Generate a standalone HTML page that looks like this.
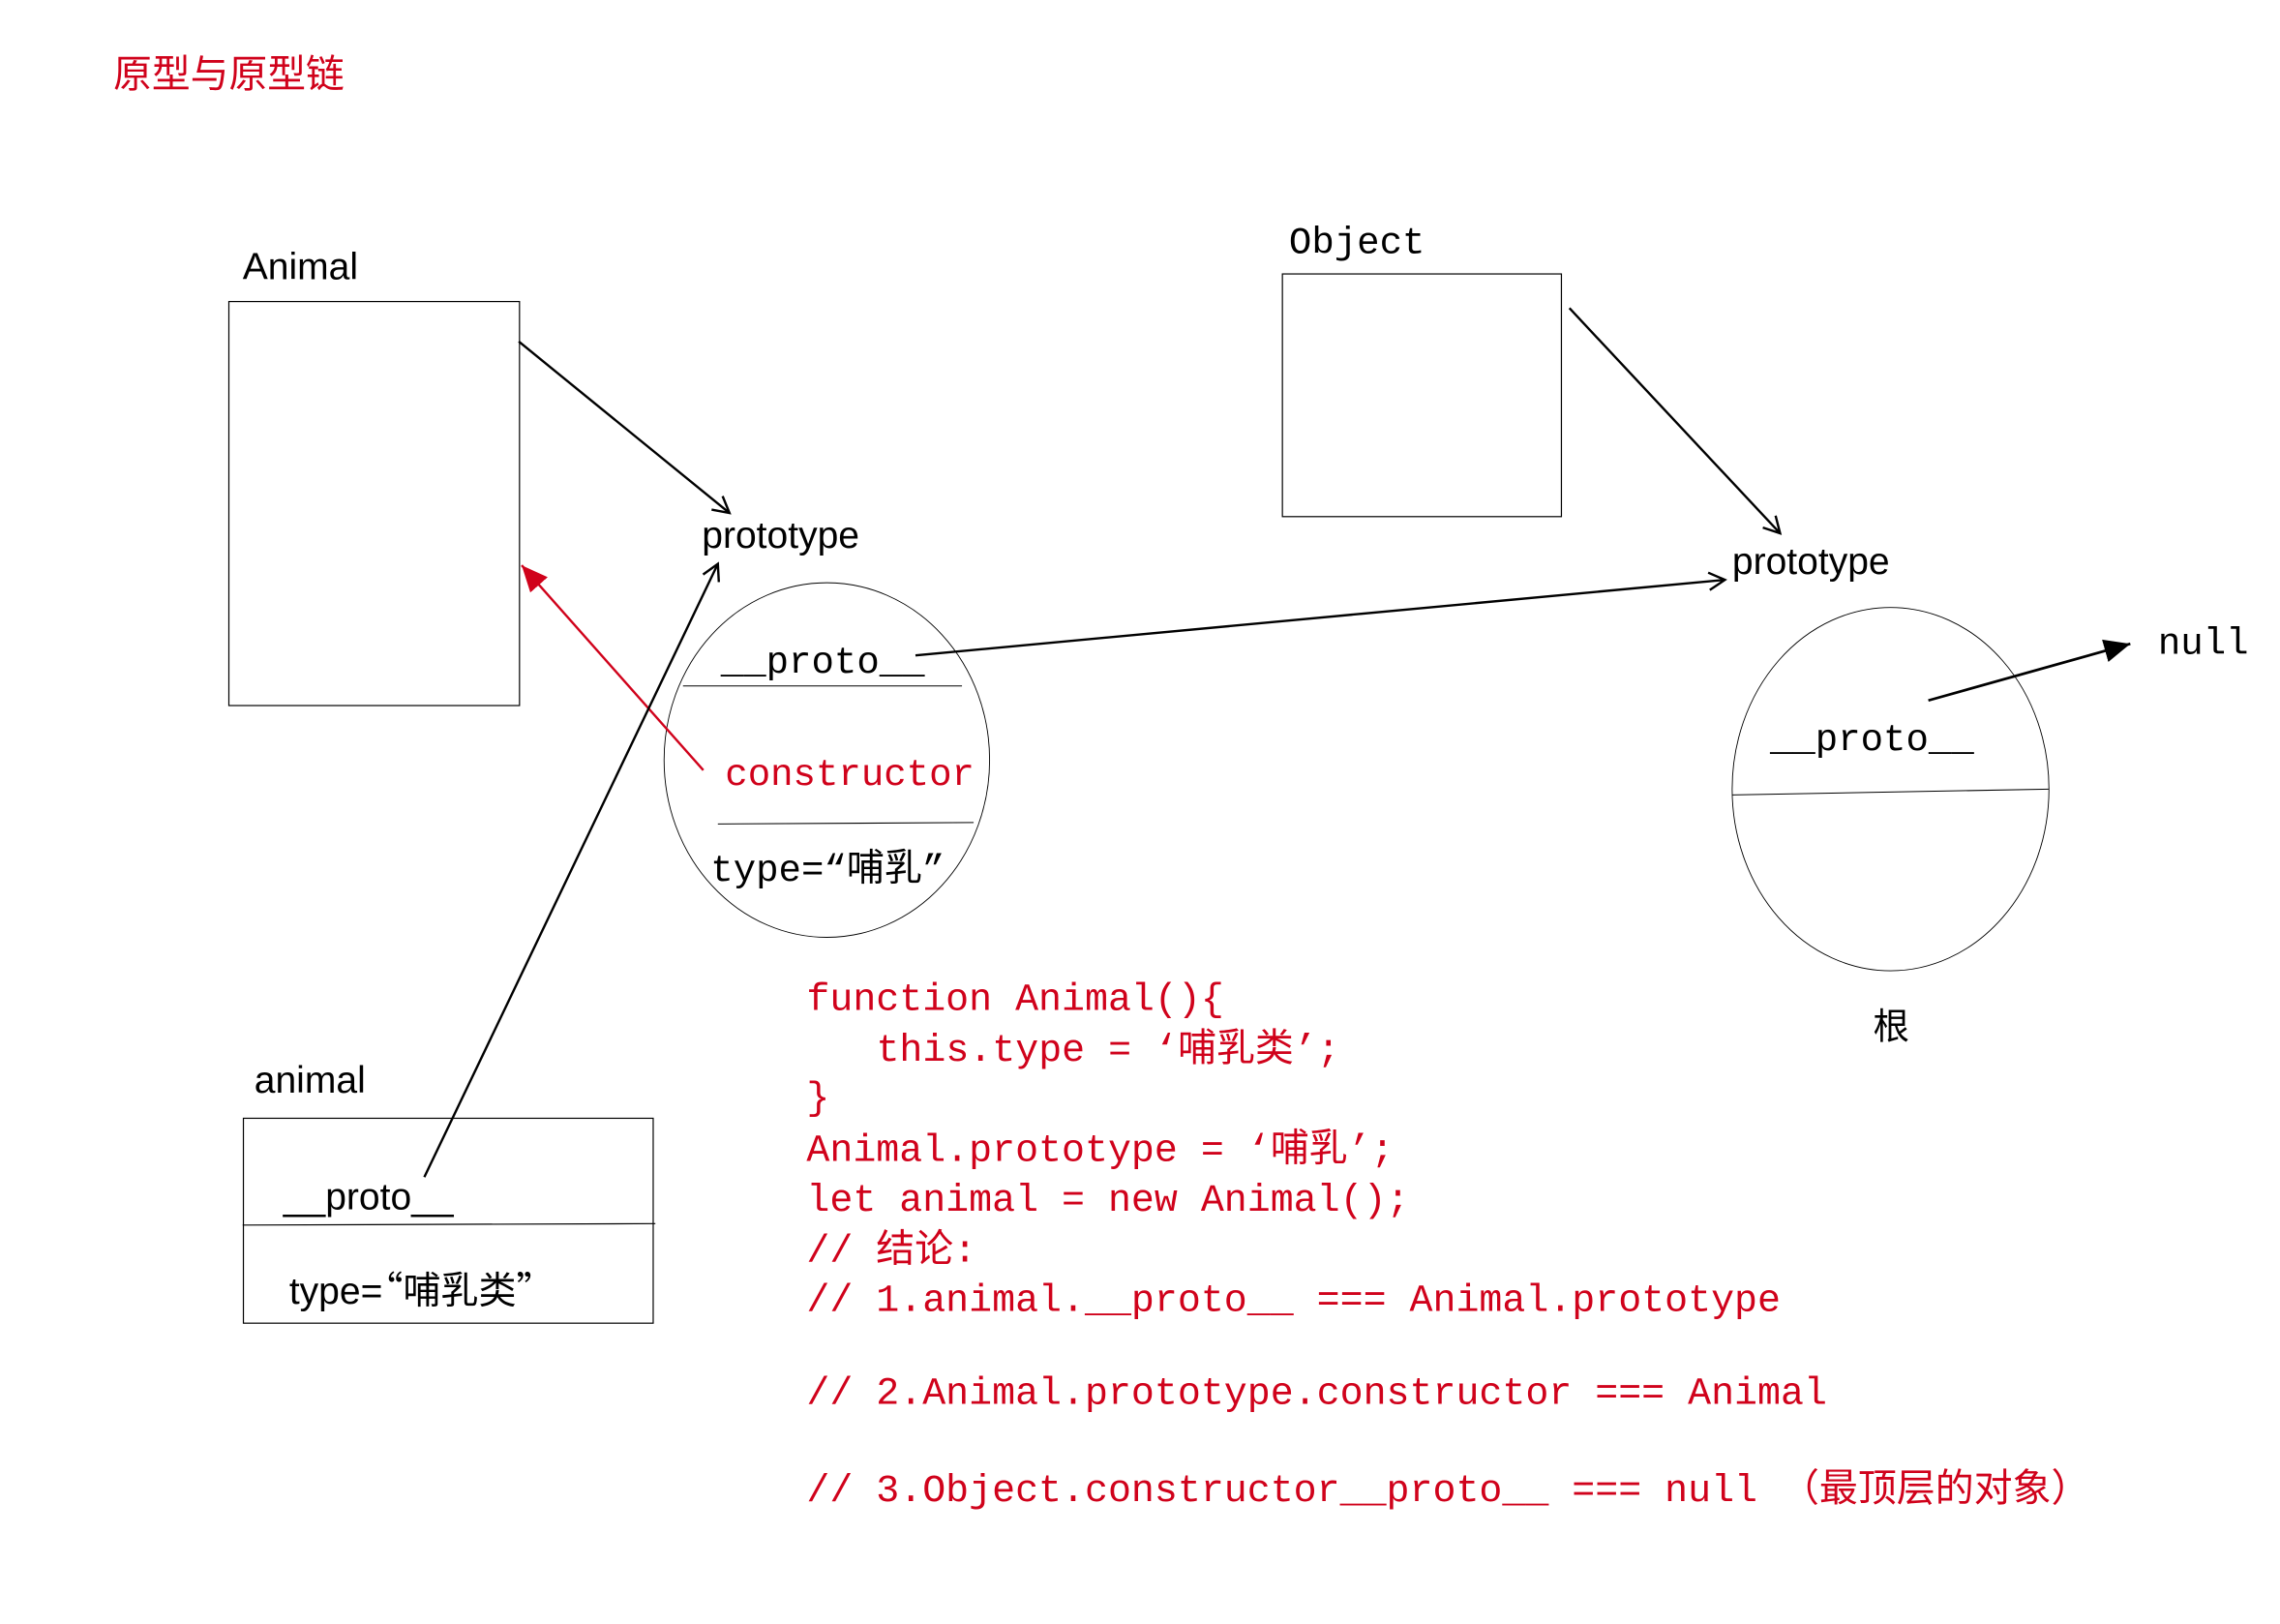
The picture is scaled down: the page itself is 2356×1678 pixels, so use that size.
<!DOCTYPE html>
<html><head><meta charset="utf-8"><style>
html,body{margin:0;padding:0;background:#fff;width:2356px;height:1678px;overflow:hidden}
svg{display:block}
.s{font-family:"Liberation Sans","Noto Sans CJK SC",sans-serif}
.m{font-family:"Liberation Mono","Noto Sans CJK SC",monospace}
.c{font-family:"Noto Sans CJK SC",sans-serif}
</style></head><body>
<svg width="2356" height="1678" viewBox="0 0 1569 1117.5" preserveAspectRatio="none" xmlns="http://www.w3.org/2000/svg">
<defs>
<marker id="open" markerWidth="14" markerHeight="14" refX="12" refY="7" orient="auto" markerUnits="userSpaceOnUse">
<path d="M1,1 L12,7 L1,13" fill="none" stroke="#000" stroke-width="1.6"/></marker>
<marker id="fillb" markerWidth="20" markerHeight="18" refX="18" refY="9" orient="auto" markerUnits="userSpaceOnUse">
<path d="M0,1 L18,9 L0,17 z" fill="#000"/></marker>
<marker id="fillr" markerWidth="20" markerHeight="18" refX="18" refY="9" orient="auto" markerUnits="userSpaceOnUse">
<path d="M0,1 L18,9 L0,17 z" fill="#d0021b"/></marker>
</defs>
<rect width="1569" height="1118" fill="#fff"/>
<text x="78" y="60" class="s" font-size="26.5" fill="#d0021b">原型与原型链</text>

<text x="167" y="192" class="s" font-size="26">Animal</text>
<rect x="157.5" y="207.5" width="200" height="278" fill="none" stroke="#000" stroke-width="0.8"/>
<line x1="357" y1="235" x2="502" y2="353" stroke="#000" stroke-width="1.6" marker-end="url(#open)"/>
<text x="483" y="377" class="s" font-size="26">prototype</text>

<ellipse cx="569" cy="523" rx="112" ry="122" fill="none" stroke="#000" stroke-width="0.6"/>
<line x1="470" y1="472" x2="662" y2="472" stroke="#000" stroke-width="0.7"/>
<line x1="494" y1="567" x2="670" y2="566" stroke="#000" stroke-width="0.7"/>
<text x="496" y="463" class="m" font-size="26">__proto__</text>
<text x="499" y="540" class="m" font-size="26" fill="#d0021b">constructor</text>
<text x="489" y="606" class="m" font-size="26">type=“哺乳”</text>

<line x1="484" y1="530" x2="359" y2="389" stroke="#d0021b" stroke-width="1.6" marker-end="url(#fillr)"/>
<line x1="292" y1="810" x2="494" y2="388" stroke="#000" stroke-width="1.6" marker-end="url(#open)"/>

<text x="175" y="752" class="s" font-size="26">animal</text>
<rect x="167.5" y="769.5" width="282" height="141" fill="none" stroke="#000" stroke-width="0.8"/>
<line x1="167" y1="843" x2="451" y2="842" stroke="#000" stroke-width="0.8"/>
<text x="195" y="832" class="s" font-size="26">__proto__</text>
<text x="199" y="897" class="s" font-size="26">type=<tspan class="c" dx="-12">“哺乳类”</tspan></text>

<text x="887" y="174" class="m" font-size="26">Object</text>
<rect x="882.5" y="188.5" width="192" height="167" fill="none" stroke="#000" stroke-width="0.8"/>
<line x1="1080" y1="212" x2="1225" y2="367" stroke="#000" stroke-width="1.6" marker-end="url(#open)"/>
<text x="1192" y="395" class="s" font-size="26">prototype</text>
<line x1="630" y1="451" x2="1187" y2="399" stroke="#000" stroke-width="1.6" marker-end="url(#open)"/>

<ellipse cx="1301" cy="543" rx="109" ry="125" fill="none" stroke="#000" stroke-width="0.6"/>
<line x1="1192" y1="547" x2="1410" y2="543" stroke="#000" stroke-width="0.7"/>
<text x="1218" y="516" class="m" font-size="26">__proto__</text>
<line x1="1327" y1="482" x2="1466" y2="443" stroke="#000" stroke-width="1.8" marker-end="url(#fillb)"/>
<text x="1485" y="450" class="m" font-size="26">null</text>
<text x="1289" y="715" class="s" font-size="25">根</text>

<g class="m" font-size="26.6" fill="#d0021b">
<text x="555" y="695">function Animal(){</text>
<text x="603" y="730">this.type = ‘哺乳类’;</text>
<text x="555" y="763">}</text>
<text x="555" y="799">Animal.prototype = ‘哺乳’;</text>
<text x="555" y="833">let animal = new Animal();</text>
<text x="555" y="868">// 结论:</text>
<text x="555" y="902">// 1.animal.__proto__ === Animal.prototype</text>
<text x="555" y="966">// 2.Animal.prototype.constructor === Animal</text>
<text x="555" y="1033">// 3.Object.constructor__proto__ === null （最顶层的对象）</text>
</g>
</svg>
</body></html>
